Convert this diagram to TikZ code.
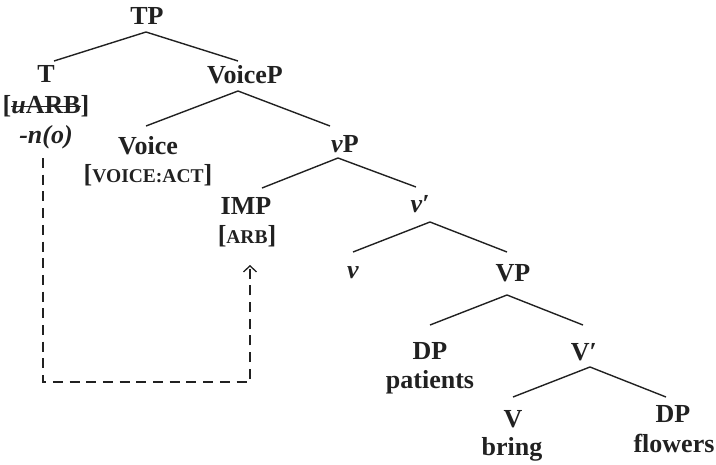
\documentclass[tikz,border=0pt]{standalone}
\usepackage{fontspec}
\setmainfont{Liberation Serif}
\usetikzlibrary{arrows.meta}

\definecolor{ink}{rgb}{0.13,0.13,0.13}

% struck-through feature text
\newsavebox\strikebox
\newcommand\struck[1]{\sbox\strikebox{#1}\rlap{\rule[0.24em]{\wd\strikebox}{1.2pt}}\usebox\strikebox}
% small capitals for feature values
\newcommand\featsc[1]{{\fontsize{19.5pt}{19.5pt}\selectfont #1}}

\begin{document}
\begin{tikzpicture}[x=1pt,y=1pt,
  lab/.style={anchor=base, inner sep=0pt, text=ink,
              font=\bfseries\fontsize{26pt}{29pt}\selectfont},
  branch/.style={line width=1.4pt, draw=ink},
  agree/.style={line width=1.3pt, draw=ink, dash pattern=on 10pt off 6.7pt,
                -{Straight Barb[length=6pt,width=13pt]}}]

\useasboundingbox (0,0) rectangle (716,-464);

% labels
\node[lab] (TP)     at (147,-24)  {TP};
\node[lab] (T)      at (46,-82)   {T};
\node[lab] (Tfeat)  at (46,-113)  {[\struck{\textit{u}ARB}]};
\node[lab] (Tmorph) at (46,-143)  {\textit{-n(o)}};
\node[lab] (VoiceP) at (245,-83)  {VoiceP};
\node[lab] (Voice)  at (148,-154) {Voice};
\node[lab] (Vfeat)  at (148,-182) {[\featsc{VOICE:ACT}]};
\node[lab] (vP)     at (345,-152) {\textit{ν}P};
\node[lab] (IMP)    at (246,-214) {IMP};
\node[lab] (IMPf)   at (247,-243) {[\featsc{ARB}]};
\node[lab] (vbar)   at (420,-212) {\textit{ν′}};
\node[lab] (v)      at (353,-278) {\textit{ν}};
\node[lab] (VP)     at (513,-281) {VP};
\node[lab] (DPa)    at (430,-359) {DP};
\node[lab] (pat)    at (430,-388) {patients};
\node[lab] (Vbar)   at (584,-360) {V′};
\node[lab] (V)      at (513,-427) {V};
\node[lab] (bring)  at (512,-455) {bring};
\node[lab] (DPb)    at (673,-422) {DP};
\node[lab] (flw)    at (674,-452) {flowers};

% branches
\draw[branch] ([xshift=-1pt,yshift=-8pt]TP.base) -- ([xshift=8pt,yshift=21pt]T.base);
\draw[branch] ([xshift=-1pt,yshift=-8pt]TP.base) -- ([xshift=-7pt,yshift=22pt]VoiceP.base);
\draw[branch] ([xshift=-7pt,yshift=-8pt]VoiceP.base) -- ([xshift=-2pt,yshift=28pt]Voice.base);
\draw[branch] ([xshift=-7pt,yshift=-8pt]VoiceP.base) -- ([xshift=-15pt,yshift=26pt]vP.base);
\draw[branch] ([xshift=-7pt,yshift=-6pt]vP.base) -- ([xshift=16pt,yshift=26pt]IMP.base);
\draw[branch] ([xshift=-7pt,yshift=-6pt]vP.base) -- ([xshift=-4pt,yshift=25pt]vbar.base);
\draw[branch] ([xshift=10pt,yshift=-10pt]vbar.base) -- ([yshift=26pt]v.base);
\draw[branch] ([xshift=10pt,yshift=-10pt]vbar.base) -- ([xshift=-6pt,yshift=29pt]VP.base);
\draw[branch] ([xshift=-6pt,yshift=-14pt]VP.base) -- ([yshift=34pt]DPa.base);
\draw[branch] ([xshift=-6pt,yshift=-14pt]VP.base) -- ([xshift=-1pt,yshift=35pt]Vbar.base);
\draw[branch] ([xshift=6pt,yshift=-7pt]Vbar.base) -- ([yshift=30pt]V.base);
\draw[branch] ([xshift=6pt,yshift=-7pt]Vbar.base) -- ([xshift=-7pt,yshift=25pt]DPb.base);

% agreement path
\draw[agree] ([xshift=-3pt,yshift=-15pt]Tmorph.base) -- ++(0,-224)
             -| ([xshift=3pt,yshift=-22pt]IMPf.base);

\end{tikzpicture}
\end{document}
